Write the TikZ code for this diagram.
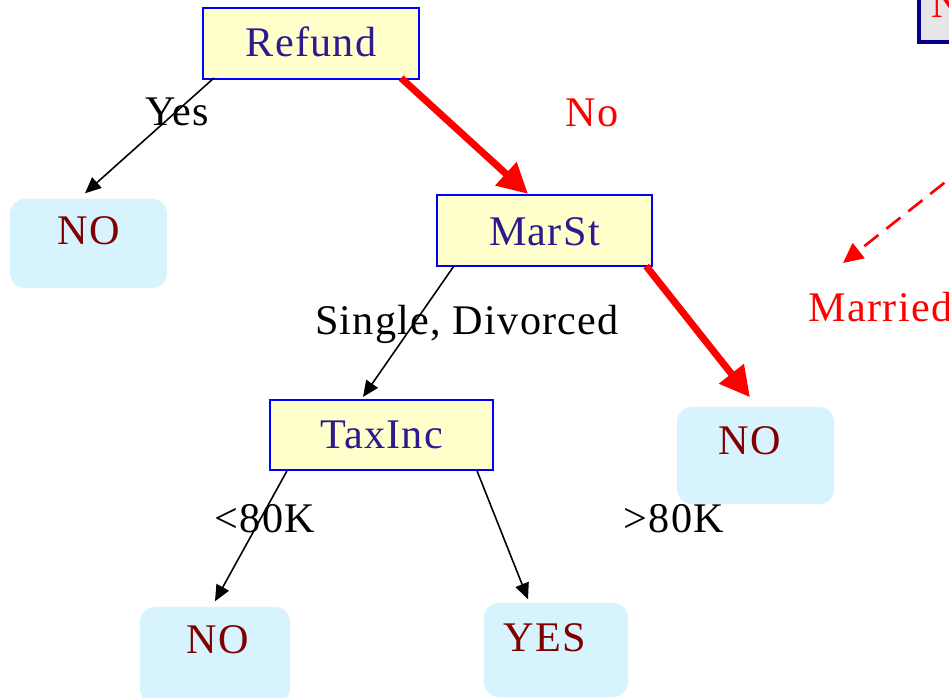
\documentclass[tikz,border=0pt]{standalone}
\usepackage{fontspec}
\setmainfont{Liberation Serif}[LetterSpace=3]
\usetikzlibrary{arrows.meta,calc}
\definecolor{boxblue}{RGB}{0,0,255}
\definecolor{boxyellow}{RGB}{255,255,204}
\definecolor{indigo}{RGB}{46,26,142}
\definecolor{leafcyan}{RGB}{214,243,254}
\definecolor{leafred}{RGB}{128,0,0}
\definecolor{navy}{RGB}{0,0,140}
\definecolor{graybox}{RGB}{230,230,230}
\begin{document}
\begin{tikzpicture}[x=0.01cm,y=-0.01cm,
  every node/.style={inner sep=0pt, font=\fontsize{12}{14}\selectfont},
  testbox/.style={draw=boxblue, fill=boxyellow, line width=0.6pt},
  leafbox/.style={fill=leafcyan, rounded corners=0.15cm},
  testtxt/.style={anchor=base, text=indigo},
  leaftxt/.style={anchor=base, text=leafred},
  edgelbl/.style={anchor=base},
  blackarrow/.style={draw=black, line width=0.45pt, -{Triangle[length=0.16cm,width=0.14cm]}},
  redarrow/.style={draw=red, line width=2pt, -{Triangle[length=0.3cm,width=0.3cm]}},
  reddash/.style={draw=red, line width=0.75pt, dash pattern=on 0.18cm off 0.1cm, -{Triangle[length=0.2cm,width=0.19cm]}}
]
\useasboundingbox (0,0) rectangle (949,698);
\clip (0,0) rectangle (949,698);

% boxes
\node[testbox, minimum width=2.16cm, minimum height=0.71cm] (refund) at (311,43.5) {};
\node[testbox, minimum width=2.15cm, minimum height=0.71cm] (marst) at (544.5,230.5) {};
\node[testbox, minimum width=2.23cm, minimum height=0.70cm] (taxinc) at (381.5,435) {};
\node[leafbox, minimum width=1.57cm, minimum height=0.89cm] (no1) at (88.5,243.5) {};
\node[leafbox, minimum width=1.57cm, minimum height=0.97cm] (no2) at (755.5,455.5) {};
\node[leafbox, minimum width=1.50cm, minimum height=0.96cm] (no3) at (215,655) {};
\node[leafbox, minimum width=1.44cm, minimum height=0.94cm] (yes) at (556,650) {};
\node[draw=navy, fill=graybox, line width=1pt, minimum width=2.41cm, minimum height=0.82cm] (topbox) at (1039.5,1) {};

% box texts
\node[testtxt] (refundtxt) at (311,57) {Refund};
\node[testtxt] (marsttxt) at (544.5,246) {MarSt};
\node[testtxt] (taxinctxt) at (381.5,449) {TaxInc};
\node[leaftxt] (no1txt) at (88.5,245) {NO};
\node[leaftxt] (no2txt) at (750,455) {NO};
\node[leaftxt] (no3txt) at (218,653) {NO};
\node[leaftxt] (yestxt) at (545,652) {YES};
\node[anchor=base west, text=red] (toptxt) at (931,18) {N};

% connectors
\draw[blackarrow] ($(refund.south west)+(12,-2)$) -- ($(no1.north)+(-3.5,-5)$);
\draw[redarrow] ($(refund.south east)+(-19,-2)$) -- ($(marst.north)+(-16.5,0)$);
\draw[blackarrow] ($(marst.south west)+(18,-1)$) -- ($(taxinc.north)+(-18.5,-2)$);
\draw[redarrow] ($(marst.south east)+(-7,-1)$) -- ($(no2.north)+(-5.5,-9)$);
\draw[blackarrow] ($(taxinc.south west)+(18,0)$) -- ($(no3.north)+(0,-5)$);
\draw[blackarrow] ($(taxinc.south east)+(-17,0)$) -- ($(yes.north)+(-28,-3)$);
\coordinate (marriedend) at (843,263);
\draw[reddash] ($(topbox.south west)+(203,0)$) -- (marriedend);

% edge labels
\node[edgelbl] (lyes) at (177,126) {Yes};
\node[edgelbl, text=red] (lno) at (592,127) {No};
\node[edgelbl] (lsingle) at (467,335) {Single, Divorced};
\node[edgelbl] (llt) at (265,533) {<80K};
\node[edgelbl] (lgt) at (674,533) {>80K};
\node[anchor=base west, text=red] (lmarried) at (808,322) {Married};
\end{tikzpicture}
\end{document}
